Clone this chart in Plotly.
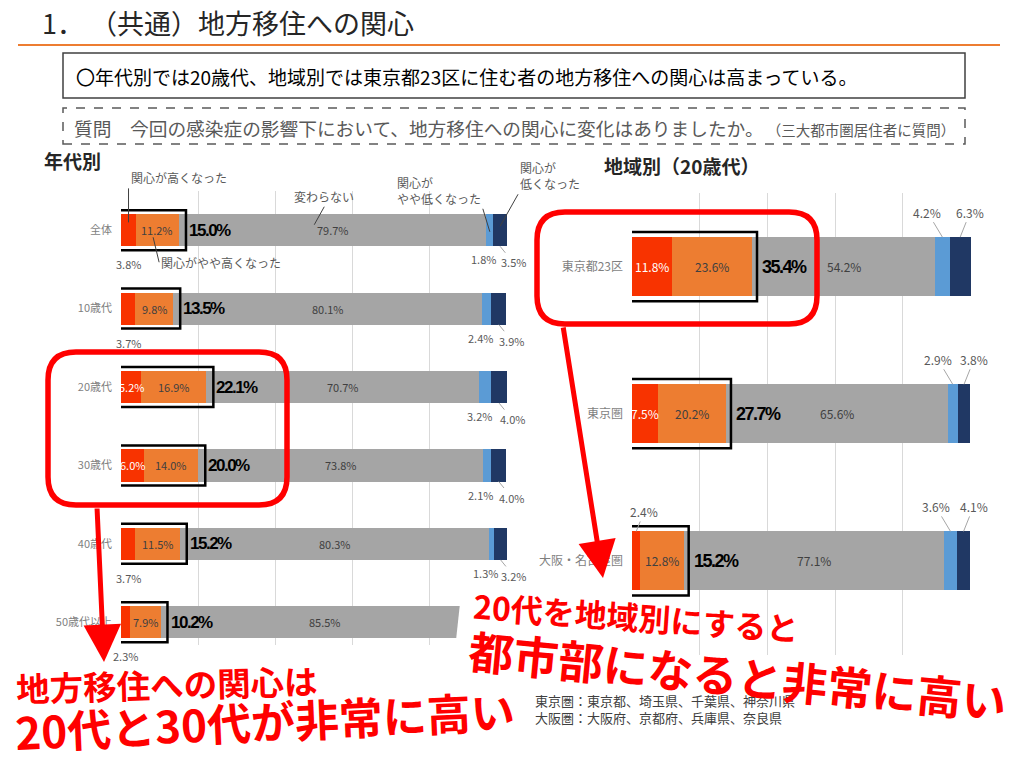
import plotly.graph_objects as go

# ---------------- data ----------------
cats_age = ['全体', '10歳代', '20歳代', '30歳代', '40歳代', '50歳代以上']
age_high = [3.8, 3.7, 5.2, 6.0, 3.7, 2.3]
age_slight_high = [11.2, 9.8, 16.9, 14.0, 11.5, 7.9]
age_same = [79.7, 80.1, 70.7, 73.8, 80.3, 85.5]
age_slight_low = [1.8, 2.4, 3.2, 2.1, 1.3, 1.5]
age_low = [3.5, 3.9, 4.0, 4.0, 3.2, 2.8]
age_total = [15.0, 13.5, 22.1, 20.0, 15.2, 10.2]

cats_reg = ['東京都23区', '東京圏', '大阪・名古屋圏']
reg_high = [11.8, 7.5, 2.4]
reg_slight_high = [23.6, 20.2, 12.8]
reg_same = [54.2, 65.6, 77.1]
reg_slight_low = [4.2, 2.9, 3.6]
reg_low = [6.3, 3.8, 4.1]
reg_total = [35.4, 27.7, 15.2]

series_names = ['関心が高くなった', '関心がやや高くなった', '変わらない', '関心がやや低くなった', '関心が低くなった']
colors = ['#F83300', '#ED7D31', '#A5A5A5', '#5B9BD5', '#203864']

W, H = 1024, 768
def PX(x): return x / W
def PY(y): return 1 - y / H

JP = 'Noto Sans CJK JP'
NUM = 'Liberation Sans, Arial, sans-serif'
BW_L, BW_R = 0.41, 0.40

def total_text(v):
    return f'<b><span style="letter-spacing:-1.5px">{v:.1f}%</span></b>'

fig = go.Figure()
age_series = [age_high, age_slight_high, age_same, age_slight_low, age_low]
reg_series = [reg_high, reg_slight_high, reg_same, reg_slight_low, reg_low]
for name, vals, col in zip(series_names, age_series, colors):
    fig.add_trace(go.Bar(x=vals, y=list(range(len(cats_age))), orientation='h', name=name,
                         marker=dict(color=col, line=dict(width=0)), width=BW_L,
                         xaxis='x', yaxis='y', hoverinfo='skip'))
for name, vals, col in zip(series_names, reg_series, colors):
    fig.add_trace(go.Bar(x=vals, y=list(range(len(cats_reg))), orientation='h', name=name,
                         marker=dict(color=col, line=dict(width=0)), width=BW_R,
                         xaxis='x2', yaxis='y2', hoverinfo='skip'))

ann = []
shapes = []

def seg_bounds(series, i):
    out = []
    c = 0
    for s in series:
        out.append((c, c + s[i]))
        c += s[i]
    return out

# ---------- left chart labels ----------
for i in range(len(cats_age)):
    b = seg_bounds(age_series, i)
    v = age_high[i]
    if v >= 5:
        ann.append(dict(x=(b[0][0] + b[0][1]) / 2, y=i, xref='x', yref='y', text=f'{v:.1f}%',
                        showarrow=False, font=dict(size=11, color='white', family=JP)))
    else:
        ann.append(dict(x=(b[0][0] + b[0][1]) / 2, y=i + BW_L / 2, xref='x', yref='y', text=f'{v:.1f}%',
                        showarrow=False, yshift=-18, font=dict(size=11, color='#595959', family=JP)))
    ann.append(dict(x=(b[1][0] + b[1][1]) / 2, y=i, xref='x', yref='y', text=f'{age_slight_high[i]:.1f}%',
                    showarrow=False, font=dict(size=11, color='#404040', family=JP)))
    ann.append(dict(x=(b[2][0] + b[2][1]) / 2, y=i, xref='x', yref='y', text=f'{age_same[i]:.1f}%',
                    showarrow=False, font=dict(size=11, color='#404040', family=JP)))
    if i < 5:
        ann.append(dict(x=(b[3][0] + b[3][1]) / 2, y=i + BW_L / 2, xref='x', yref='y',
                        text=f'{age_slight_low[i]:.1f}%', showarrow=False, xshift=-6, yshift=-13,
                        font=dict(size=11, color='#595959', family=JP)))
        ann.append(dict(x=(b[4][0] + b[4][1]) / 2, y=i + BW_L / 2, xref='x', yref='y',
                        text=f'{age_low[i]:.1f}%', showarrow=True, ax=13, ay=16, arrowhead=0,
                        arrowwidth=1, arrowcolor='#A6A6A6',
                        font=dict(size=11, color='#595959', family=JP)))
    ann.append(dict(x=age_total[i], y=i, xref='x', yref='y', text=total_text(age_total[i]),
                    showarrow=False, xanchor='left', xshift=8,
                    font=dict(size=17, color='black', family=NUM)))
    shapes.append(dict(type='rect', xref='x', yref='y', x0=-1.2, x1=age_total[i] + 1.8,
                       y0=i - 0.255, y1=i + 0.255, line=dict(color='black', width=2.5), layer='above'))

# callouts (全体 row)
cb = seg_bounds(age_series, 0)
call_font = dict(size=12, color='#595959', family=JP)
ann += [
    dict(x=(cb[0][0] + cb[0][1]) / 2, y=-0.1, xref='x', yref='y', text='関心が高くなった',
         showarrow=True, ax=0, ay=-34, xanchor='left', yanchor='bottom', arrowhead=0, arrowwidth=1,
         arrowcolor='#404040', font=call_font),
    dict(x=cb[1][0] + (cb[1][1] - cb[1][0]) * 0.4, y=0.09, xref='x', yref='y', text='関心がやや高くなった',
         showarrow=True, ax=6, ay=25, xanchor='left', yanchor='middle', arrowhead=0, arrowwidth=1,
         arrowcolor='#404040', font=call_font),
    dict(x=cb[2][0] + (cb[2][1] - cb[2][0]) * 0.44, y=-0.07, xref='x', yref='y', text='変わらない',
         showarrow=True, ax=10, ay=-18, xanchor='center', yanchor='bottom', arrowhead=0, arrowwidth=1,
         arrowcolor='#404040', font=call_font),
    dict(x=(cb[3][0] + cb[3][1]) / 2, y=0.02, xref='x', yref='y', text='関心が<br>やや低くなった',
         showarrow=True, ax=-7, ay=-23, xanchor='right', yanchor='bottom', align='left', arrowhead=0,
         arrowwidth=1, arrowcolor='#404040', font=call_font),
    dict(x=(cb[4][0] + cb[4][1]) / 2, y=-0.05, xref='x', yref='y', text='関心が<br>低くなった',
         showarrow=True, ax=18, ay=-32, xanchor='left', yanchor='bottom', align='left', arrowhead=0,
         arrowwidth=1, arrowcolor='#404040', font=call_font),
]

# ---------- right chart labels ----------
for i in range(len(cats_reg)):
    b = seg_bounds(reg_series, i)
    v = reg_high[i]
    if v >= 5:
        ann.append(dict(x=(b[0][0] + b[0][1]) / 2, y=i, xref='x2', yref='y2', text=f'{v:.1f}%',
                        showarrow=False, font=dict(size=12, color='white', family=JP)))
    else:
        ann.append(dict(x=(b[0][0] + b[0][1]) / 2, y=i - BW_R / 2, xref='x2', yref='y2', text=f'{v:.1f}%',
                        showarrow=True, ax=8, ay=-20, arrowhead=0, arrowwidth=1, arrowcolor='#A6A6A6',
                        font=dict(size=12, color='#595959', family=JP)))
    ann.append(dict(x=(b[1][0] + b[1][1]) / 2, y=i, xref='x2', yref='y2', text=f'{reg_slight_high[i]:.1f}%',
                    showarrow=False, font=dict(size=12, color='#404040', family=JP)))
    ann.append(dict(x=(b[2][0] + b[2][1]) / 2, y=i, xref='x2', yref='y2', text=f'{reg_same[i]:.1f}%',
                    showarrow=False, font=dict(size=12, color='#404040', family=JP)))
    ann.append(dict(x=(b[3][0] + b[3][1]) / 2, y=i - BW_R / 2, xref='x2', yref='y2',
                    text=f'{reg_slight_low[i]:.1f}%', showarrow=True, ax=-15, ay=-25, arrowhead=0,
                    arrowwidth=1, arrowcolor='#A6A6A6', font=dict(size=12, color='#595959', family=JP)))
    ann.append(dict(x=(b[4][0] + b[4][1]) / 2, y=i - BW_R / 2, xref='x2', yref='y2',
                    text=f'{reg_low[i]:.1f}%', showarrow=True, ax=10, ay=-25, arrowhead=0,
                    arrowwidth=1, arrowcolor='#A6A6A6', font=dict(size=12, color='#595959', family=JP)))
    ann.append(dict(x=reg_total[i], y=i, xref='x2', yref='y2', text=total_text(reg_total[i]),
                    showarrow=False, xanchor='left', xshift=8,
                    font=dict(size=18, color='black', family=NUM)))
    shapes.append(dict(type='rect', xref='x2', yref='y2', x0=-1.2, x1=reg_total[i] + 1.5,
                       y0=i - 0.235, y1=i + 0.235, line=dict(color='black', width=2.5), layer='above'))

# ---------- page decorations ----------
ann += [
    dict(x=PX(40), y=PY(22), xref='paper', yref='paper', text='1． （共通）地方移住への関心',
         showarrow=False, xanchor='left', yanchor='middle', font=dict(size=27, color='#262626', family=JP)),
    dict(x=PX(74), y=PY(76), xref='paper', yref='paper',
         text='〇年代別では20歳代、地域別では東京都23区に住む者の地方移住への関心は高まっている。',
         showarrow=False, xanchor='left', yanchor='middle', font=dict(size=19, color='black', family=JP)),
    dict(x=PX(72), y=PY(127), xref='paper', yref='paper',
         text='質問　今回の感染症の影響下において、地方移住への関心に変化はありましたか。'
              '<span style="font-size:14.5px"> （三大都市圏居住者に質問）</span>',
         showarrow=False, xanchor='left', yanchor='middle', font=dict(size=18.7, color='#595959', family=JP)),
    dict(x=PX(42), y=PY(160), xref='paper', yref='paper', text='<b>年代別</b>',
         showarrow=False, xanchor='left', yanchor='middle', font=dict(size=19, color='#262626', family=JP)),
    dict(x=PX(602), y=PY(165), xref='paper', yref='paper', text='<b>地域別（20歳代）</b>',
         showarrow=False, xanchor='left', yanchor='middle', font=dict(size=19, color='#262626', family=JP)),
    dict(x=PX(533), y=PY(700), xref='paper', yref='paper', text='東京圏：東京都、埼玉県、千葉県、神奈川県',
         showarrow=False, xanchor='left', yanchor='middle', font=dict(size=13, color='#404040', family=JP)),
    dict(x=PX(533), y=PY(717), xref='paper', yref='paper', text='大阪圏：大阪府、京都府、兵庫県、奈良県',
         showarrow=False, xanchor='left', yanchor='middle', font=dict(size=13, color='#404040', family=JP)),
]

red = '#FF0000'
# red arrows
ann += [
    dict(x=PX(104), y=PY(662), xref='paper', yref='paper', text='', showarrow=True,
         ax=97 - 104, ay=507 - 662, arrowhead=2, arrowsize=1.5, arrowwidth=5, arrowcolor=red),
    dict(x=PX(603), y=PY(578), xref='paper', yref='paper', text='', showarrow=True,
         ax=563 - 603, ay=326 - 578, arrowhead=2, arrowsize=1.5, arrowwidth=5, arrowcolor=red),
]

# red messages
ann += [
    dict(x=PX(167), y=PY(683), xref='paper', yref='paper', text='<b>地方移住への関心は</b>', showarrow=False,
         xanchor='center', yanchor='middle', textangle=-1.5, font=dict(size=33.5, color=red, family=JP)),
    dict(x=PX(265), y=PY(720), xref='paper', yref='paper', text='<b>20代と30代が非常に高い</b>', showarrow=False,
         xanchor='center', yanchor='middle', textangle=-2.5, font=dict(size=44, color=red, family=JP)),
    dict(x=PX(636), y=PY(616), xref='paper', yref='paper', text='<b>20代を地域別にすると</b>', showarrow=False,
         xanchor='center', yanchor='middle', textangle=4, font=dict(size=32, color=red, family=JP)),
    dict(x=PX(738), y=PY(674), xref='paper', yref='paper', text='<b>都市部になると非常に高い</b>', showarrow=False,
         xanchor='center', yanchor='middle', textangle=5.5, font=dict(size=45, color=red, family=JP)),
]

def rrect(x0, y0, x1, y1, r):
    pts = [('M', [(x0 + r, y0)]), ('L', [(x1 - r, y0)]), ('Q', [(x1, y0), (x1, y0 + r)]),
           ('L', [(x1, y1 - r)]), ('Q', [(x1, y1), (x1 - r, y1)]), ('L', [(x0 + r, y1)]),
           ('Q', [(x0, y1), (x0, y1 - r)]), ('L', [(x0, y0 + r)]), ('Q', [(x0, y0), (x0 + r, y0)])]
    s = ''
    for cmd, ps in pts:
        s += cmd + ' ' + ' '.join(f'{PX(px):.5f},{PY(py):.5f}' for px, py in ps) + ' '
    return s + 'Z'

def poly(points):
    return 'M ' + ' L '.join(f'{PX(x):.5f},{PY(y):.5f}' for x, y in points) + ' Z'

shapes += [
    dict(type='line', xref='paper', yref='paper', x0=PX(18), x1=PX(1000), y0=PY(45), y1=PY(45),
         line=dict(color='#ED7D31', width=2)),
    dict(type='rect', xref='paper', yref='paper', x0=PX(63), x1=PX(965), y0=PY(98), y1=PY(53),
         line=dict(color='#404040', width=1.5)),
    dict(type='rect', xref='paper', yref='paper', x0=PX(63), x1=PX(965), y0=PY(144), y1=PY(108),
         line=dict(color='#595959', width=1.5, dash='dash')),
    dict(type='path', xref='paper', yref='paper', path=poly([(461, 594), (528, 594), (528, 668), (453, 668)]),
         fillcolor='white', line=dict(width=0), layer='above'),
    dict(type='path', xref='paper', yref='paper', path=rrect(48, 352, 287, 505, 28),
         line=dict(color=red, width=5.5), layer='above'),
    dict(type='path', xref='paper', yref='paper', path=rrect(537, 212, 817, 324, 28),
         line=dict(color=red, width=5.5), layer='above'),
]

grid = dict(showgrid=True, gridcolor='#D9D9D9', gridwidth=1, dtick=20, tick0=0, zeroline=False,
            showticklabels=False, ticks='', showline=False, fixedrange=True)

fig.update_layout(
    width=W, height=H, margin=dict(l=0, r=0, t=0, b=0),
    paper_bgcolor='white', plot_bgcolor='rgba(0,0,0,0)',
    barmode='stack', showlegend=False,
    font=dict(family=JP, color='#404040'),
    xaxis=dict(domain=[PX(121), PX(507)], range=[-0.05, 100.05], anchor='y', **grid),
    yaxis=dict(domain=[PY(645), PY(191)], range=[5.29, -0.5], anchor='x', tickvals=list(range(len(cats_age))),
               ticktext=cats_age, showgrid=False, zeroline=False, ticks='', ticklabelstandoff=8,
               tickfont=dict(size=11, color='#7F7F7F'), fixedrange=True),
    xaxis2=dict(domain=[PX(632), PX(971)], range=[-0.05, 100.15], anchor='y2', **grid),
    yaxis2=dict(domain=[PY(655), PY(193)], range=[2.64, -0.5], anchor='x2', tickvals=list(range(len(cats_reg))),
                ticktext=cats_reg, showgrid=False, zeroline=False, ticks='', ticklabelstandoff=8,
                tickfont=dict(size=12, color='#7F7F7F'), fixedrange=True),
    annotations=ann, shapes=shapes,
)

fig.write_html('out.html')
